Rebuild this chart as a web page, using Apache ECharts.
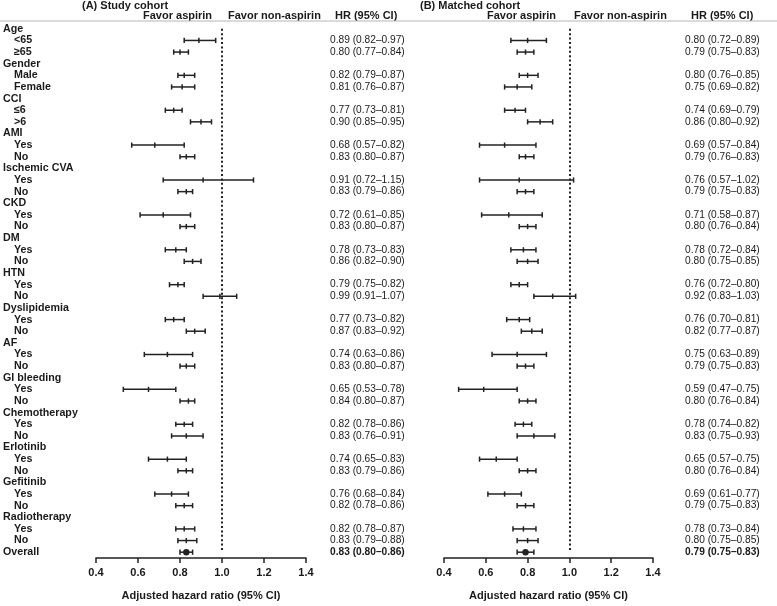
<!DOCTYPE html>
<html><head><meta charset="utf-8">
<script src="https://cdn.jsdelivr.net/npm/echarts@6/dist/echarts.min.js"></script>
<style>html,body{margin:0;padding:0;background:#fff}#c{width:777px;height:606px}</style>
</head><body><div id="c"></div>
<script>
const groups = ['Age','Gender','CCI','AMI','Ischemic CVA','CKD','DM','HTN','Dyslipidemia','AF','GI bleeding','Chemotherapy','Erlotinib','Gefitinib','Radiotherapy'];
const subgroups = [['<65','≥65'],['Male','Female'],['≤6','>6'],['Yes','No'],['Yes','No'],['Yes','No'],['Yes','No'],['Yes','No'],['Yes','No'],['Yes','No'],['Yes','No'],['Yes','No'],['Yes','No'],['Yes','No'],['Yes','No']];
const studyHR = [0.89,0.80, 0.82,0.81, 0.77,0.90, 0.68,0.83, 0.91,0.83, 0.72,0.83, 0.78,0.86, 0.79,0.99, 0.77,0.87, 0.74,0.83, 0.65,0.84, 0.82,0.83, 0.74,0.83, 0.76,0.82, 0.82,0.83];
const studyLo = [0.82,0.77, 0.79,0.76, 0.73,0.85, 0.57,0.80, 0.72,0.79, 0.61,0.80, 0.73,0.82, 0.75,0.91, 0.73,0.83, 0.63,0.80, 0.53,0.80, 0.78,0.76, 0.65,0.79, 0.68,0.78, 0.78,0.79];
const studyHi = [0.97,0.84, 0.87,0.87, 0.81,0.95, 0.82,0.87, 1.15,0.86, 0.85,0.87, 0.83,0.90, 0.82,1.07, 0.82,0.92, 0.86,0.87, 0.78,0.87, 0.86,0.91, 0.83,0.86, 0.84,0.86, 0.87,0.88];
const matchedHR = [0.80,0.79, 0.80,0.75, 0.74,0.86, 0.69,0.79, 0.76,0.79, 0.71,0.80, 0.78,0.80, 0.76,0.92, 0.76,0.82, 0.75,0.79, 0.59,0.80, 0.78,0.83, 0.65,0.80, 0.69,0.79, 0.78,0.80];
const matchedLo = [0.72,0.75, 0.76,0.69, 0.69,0.80, 0.57,0.76, 0.57,0.75, 0.58,0.76, 0.72,0.75, 0.72,0.83, 0.70,0.77, 0.63,0.75, 0.47,0.76, 0.74,0.75, 0.57,0.76, 0.61,0.75, 0.73,0.75];
const matchedHi = [0.89,0.83, 0.85,0.82, 0.79,0.92, 0.84,0.83, 1.02,0.83, 0.87,0.84, 0.84,0.85, 0.80,1.03, 0.81,0.87, 0.89,0.83, 0.75,0.84, 0.82,0.93, 0.75,0.84, 0.77,0.83, 0.84,0.85];
const studyOverall = [0.83, 0.80, 0.86];
const matchedOverall = [0.79, 0.75, 0.83];
const xTicks = [0.4, 0.6, 0.8, 1.0, 1.2, 1.4];

// build rows
const rows = [];
groups.forEach((g, gi) => {
  rows.push({label: g, type: 'h'});
  subgroups[gi].forEach((s, si) => rows.push({label: s, type: 's', idx: gi * 2 + si}));
});
rows.push({label: 'Overall', type: 'o'});
const cats = rows.map((r, i) => 'r' + i);

function fmt(h, l, u) { return h.toFixed(2) + ' (' + l.toFixed(2) + '–' + u.toFixed(2) + ')'; }
function buildData(hr, lo, hi, ov) {
  const d = [];
  rows.forEach((r, i) => {
    if (r.type === 's') d.push([i, hr[r.idx], lo[r.idx], hi[r.idx], 0]);
    if (r.type === 'o') d.push([i, ov[0], ov[1], ov[2], 1]);
  });
  return d;
}
function hrText(hr, lo, hi, ov) {
  return rows.map(r => r.type === 's' ? fmt(hr[r.idx], lo[r.idx], hi[r.idx]) : (r.type === 'o' ? fmt(ov[0], ov[1], ov[2]) : ''));
}
const studyText = hrText(studyHR, studyLo, studyHi, studyOverall);
const matchedText = hrText(matchedHR, matchedLo, matchedHi, matchedOverall);

const FONT = '"Liberation Sans", Arial, Helvetica, sans-serif';
const TXT = '#1a1a1a';
const LINE = '#222';

function renderItem(params, api) {
  const y = api.value(0);
  const pLo = api.coord([api.value(2), y]);
  const pHi = api.coord([api.value(3), y]);
  const pE = api.coord([api.value(1), y]);
  const h = 2.6;
  const st = {stroke: LINE, lineWidth: 1.5};
  const ch = [
    {type: 'line', shape: {x1: pLo[0], y1: pLo[1], x2: pHi[0], y2: pHi[1]}, style: st},
    {type: 'line', shape: {x1: pLo[0], y1: pLo[1] - h, x2: pLo[0], y2: pLo[1] + h}, style: st},
    {type: 'line', shape: {x1: pHi[0], y1: pHi[1] - h, x2: pHi[0], y2: pHi[1] + h}, style: st}
  ];
  if (api.value(4) === 1) {
    ch.push({type: 'circle', shape: {cx: pE[0], cy: pE[1], r: 3.2}, style: {fill: LINE}});
  } else {
    ch.push({type: 'line', shape: {x1: pE[0], y1: pE[1] - h, x2: pE[0], y2: pE[1] + h}, style: st});
  }
  return {type: 'group', children: ch};
}

const grids = [
  {left: 96, width: 210, top: 23, height: 536},
  {left: 444, width: 209, top: 23, height: 536}
];
function xAx(gi) {
  return {
    gridIndex: gi, type: 'value', min: 0.4, max: 1.4, interval: 0.2,
    axisLine: {show: true, lineStyle: {color: LINE, width: 1.5}},
    axisTick: {show: true, length: 5, lineStyle: {color: LINE, width: 1.5}},
    splitLine: {show: false},
    axisLabel: {color: TXT, fontFamily: FONT, fontWeight: 'bold', fontSize: 11, margin: 9,
      formatter: v => { const t = xTicks.find(x => Math.abs(x - v) < 1e-6); return t === undefined ? '' : t.toFixed(1); }},
    name: 'Adjusted hazard ratio (95% CI)', nameLocation: 'middle', nameGap: 32,
    nameTextStyle: {color: TXT, fontFamily: FONT, fontWeight: 'bold', fontSize: 11}
  };
}
function yAx(gi, pos, show, margin, texts) {
  return {
    gridIndex: gi, type: 'category', data: cats, inverse: true, position: pos,
    axisLine: {show: false}, axisTick: {show: false}, splitLine: {show: false},
    axisLabel: {show: show, interval: 0, margin: margin, align: 'left', fontFamily: FONT, color: TXT,
      formatter: (v, i) => {
        const r = rows[i];
        if (texts) return r.type === 'o' ? '{b|' + texts[i] + '}' : (texts[i] ? '{n|' + texts[i] + '}' : '');
        return r.type === 's' ? '{s|' + r.label + '}' : '{h|' + r.label + '}';
      },
      rich: {
        h: {fontFamily: FONT, fontWeight: 'bold', fontSize: 10.7, color: TXT},
        s: {fontFamily: FONT, fontWeight: 'bold', fontSize: 10.7, color: TXT, padding: [0, 0, 0, 11]},
        n: {fontFamily: FONT, fontSize: 10.2, color: TXT},
        b: {fontFamily: FONT, fontWeight: 'bold', fontSize: 10.2, color: TXT}
      }
    }
  };
}

function hdr(x, y, text) {
  return {type: 'text', left: x, top: y, style: {text: text, fontFamily: FONT, fontWeight: 'bold', fontSize: 11, fill: TXT}};
}
const dotted = {color: LINE, type: [2, 2.4], width: 2};

const chart = echarts.init(document.getElementById('c'), null, {renderer: 'canvas'});
chart.setOption({
  animation: false,
  backgroundColor: '#fff',
  grid: grids,
  xAxis: [xAx(0), xAx(1)],
  yAxis: [
    yAx(0, 'left', true, 93, null),
    yAx(0, 'right', true, 24, studyText),
    yAx(1, 'left', false, 0, null),
    yAx(1, 'right', true, 32, matchedText)
  ],
  graphic: [
    hdr(82, 0, '(A) Study cohort'),
    hdr(143, 10, 'Favor aspirin'),
    hdr(228, 10, 'Favor non-aspirin'),
    hdr(335, 10, 'HR (95% CI)'),
    hdr(420, 0, '(B) Matched cohort'),
    hdr(487, 10, 'Favor aspirin'),
    hdr(574, 10, 'Favor non-aspirin'),
    hdr(691, 10, 'HR (95% CI)'),
    {type: 'line', shape: {x1: 0, y1: 21, x2: 777, y2: 21}, style: {stroke: '#b5b5b5', lineWidth: 1}}
  ],
  series: [
    {type: 'custom', xAxisIndex: 0, yAxisIndex: 0, renderItem: renderItem,
      encode: {x: [1, 2, 3], y: 0}, data: buildData(studyHR, studyLo, studyHi, studyOverall),
      markLine: {silent: true, symbol: 'none', label: {show: false}, lineStyle: dotted,
        data: [[{coord: [1.0, 'r0']}, {coord: [1.0, 'r45']}]]}},
    {type: 'custom', xAxisIndex: 1, yAxisIndex: 2, renderItem: renderItem,
      encode: {x: [1, 2, 3], y: 0}, data: buildData(matchedHR, matchedLo, matchedHi, matchedOverall),
      markLine: {silent: true, symbol: 'none', label: {show: false}, lineStyle: dotted,
        data: [[{coord: [1.0, 'r0']}, {coord: [1.0, 'r45']}]]}}
  ]
});
</script></body></html>
